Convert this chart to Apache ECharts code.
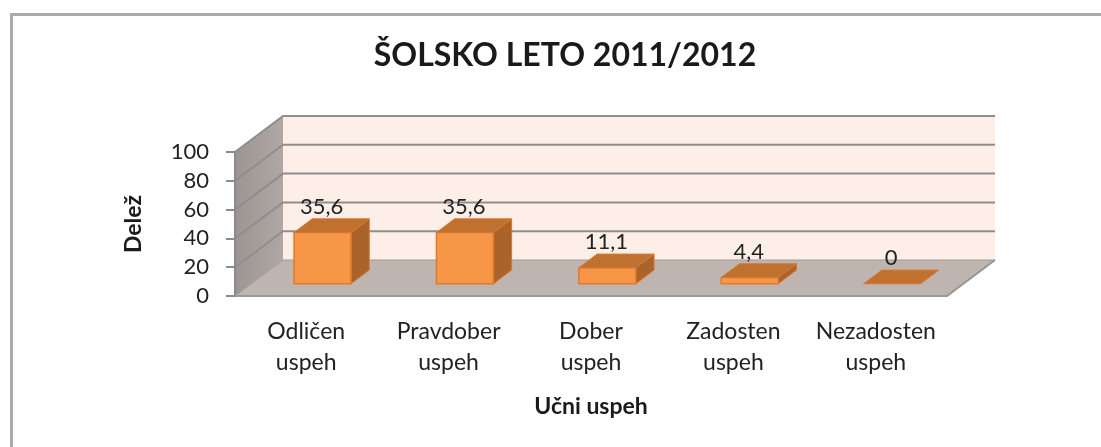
<!DOCTYPE html>
<html>
<head>
<meta charset="utf-8">
<script src="https://cdn.jsdelivr.net/npm/echarts@6/dist/echarts.min.js"></script>
<style>
  html, body { margin: 0; padding: 0; background: #fff; }
  #main { width: 1101px; height: 447px; }
</style>
</head>
<body>
<div id="main"></div>
<script>
// podatki
const categories = ['Odličen\nuspeh', 'Pravdober\nuspeh', 'Dober\nuspeh', 'Zadosten\nuspeh', 'Nezadosten\nuspeh'];
const values = [35.6, 35.6, 11.1, 4.4, 0];
const yTicks = [0, 20, 40, 60, 80, 100];

const FONT = 'Lato, "Noto Sans", sans-serif';
const DEPTH = [48, -36];     // globina stene
const BAR_FRONT = 0.34, BAR_BACK = 0.72; // lega stolpca v globino

const chart = echarts.init(document.getElementById('main'));

// stene, tla in mreža
function renderWalls(params, api) {
  const cs = params.coordSys;
  const L = cs.x, R = cs.x + cs.width, T = cs.y, B = cs.y + cs.height;
  const dx = DEPTH[0], dy = DEPTH[1];
  const children = [];
  // zadnja stena
  children.push({ type: 'rect', shape: { x: L + dx, y: T + dy, width: cs.width, height: cs.height },
    style: { fill: '#fdefe7' } });
  // stranska stena
  children.push({ type: 'polygon', shape: { points: [[L, T], [L + dx, T + dy], [L + dx, B + dy], [L, B]] },
    style: { fill: new echarts.graphic.LinearGradient(0, 0, 1, 0, [
      { offset: 0, color: '#9c9591' }, { offset: 1, color: '#aea7a3' }]) } });
  // tla
  children.push({ type: 'polygon', shape: { points: [[L, B], [R, B], [R + dx, B + dy], [L + dx, B + dy]] },
    style: { fill: '#bfb5b0' } });
  children.push({ type: 'polyline', shape: { points: [[R, B], [R + dx, B + dy]] },
    style: { stroke: '#969696', lineWidth: 2, fill: null } });
  // mrežne črte
  yTicks.forEach(function (v) {
    const y = api.coord([0, v])[1];
    if (v > 0) {
      children.push({ type: 'polyline', shape: { points: [[L, y], [L + dx, y + dy], [R + dx, y + dy]] },
        style: { stroke: '#8e8e8e', lineWidth: 2, fill: null } });
    } else {
      children.push({ type: 'polyline', shape: { points: [[L, y], [L + dx, y + dy], [R + dx, y + dy]] },
        style: { stroke: '#a09a97', lineWidth: 1, fill: null } });
    }
  });
  return { type: 'group', children: children };
}

// 3D stolpci
function renderBar(params, api) {
  const i = api.value(0), v = api.value(1);
  const base = api.coord([i, 0]);
  const top = api.coord([i, v]);
  const band = api.size([1, 0])[0];
  const w = band * 0.4;
  const fx = DEPTH[0] * BAR_FRONT, fy = DEPTH[1] * BAR_FRONT;
  const bx = DEPTH[0] * BAR_BACK, by = DEPTH[1] * BAR_BACK;
  const x0 = base[0] - w / 2 + fx, x1 = base[0] + w / 2 + fx;
  const yb = base[1] + fy, yt = top[1] + fy;
  const ddx = bx - fx, ddy = by - fy;
  const children = [];
  if (yb - yt > 0.5) {
    children.push({ type: 'polygon', shape: { points: [[x1, yt], [x1 + ddx, yt + ddy], [x1 + ddx, yb + ddy], [x1, yb]] },
      style: { fill: '#a9632b', stroke: '#d9772f', lineWidth: 1 } });
    children.push({ type: 'rect', shape: { x: x0, y: yt, width: w, height: yb - yt },
      style: { fill: '#f79646', stroke: '#e07a2c', lineWidth: 1.5 } });
  }
  children.push({ type: 'polygon', shape: { points: [[x0, yt], [x1, yt], [x1 + ddx, yt + ddy], [x0 + ddx, yt + ddy]] },
    style: { fill: '#c1712f', stroke: '#d37a34', lineWidth: 1 } });
  children.push({ type: 'text', x: (x0 + x1) / 2 - 1, y: yt + ddy - 1,
    style: { text: String(v).replace('.', ','), font: '22px ' + FONT, fill: '#222',
      align: 'center', verticalAlign: 'bottom' } });
  return { type: 'group', children: children };
}

chart.setOption({
  backgroundColor: '#fff',
  animation: false,
  title: {
    text: 'ŠOLSKO LETO 2011/2012',
    left: 560, top: 35, textAlign: 'center',
    textStyle: { fontFamily: FONT, fontSize: 32, fontWeight: 'bold', color: '#1a1a1a' }
  },
  graphic: [{
    type: 'rect', left: 9, top: 12, z: -10,
    shape: { width: 1110, height: 460 },
    style: { fill: null, stroke: '#aaaaaa', lineWidth: 3 }
  }],
  grid: { left: 235, right: 154, top: 152, bottom: 151 },
  xAxis: {
    type: 'category', data: categories, z: 10,
    name: 'Učni uspeh', nameLocation: 'middle', nameGap: 99,
    nameTextStyle: { fontFamily: FONT, fontSize: 23, fontWeight: 'bold', color: '#1a1a1a' },
    axisLine: { show: true, lineStyle: { color: '#9a9a9a', width: 2 } },
    axisTick: { show: false },
    axisLabel: { fontFamily: FONT, fontSize: 23, color: '#222', lineHeight: 31, margin: 20, interval: 0 },
    splitLine: { show: false }
  },
  yAxis: {
    type: 'value', min: 0, max: 100, interval: 20, z: 10,
    name: 'Delež', nameLocation: 'middle', nameGap: 90, nameRotate: 90,
    nameTextStyle: { fontFamily: FONT, fontSize: 23, fontWeight: 'bold', color: '#1a1a1a' },
    axisLine: { show: true, lineStyle: { color: '#8a8a8a', width: 2 } },
    axisTick: { show: true, length: 9, lineStyle: { color: '#8a8a8a', width: 2 } },
    axisLabel: { fontFamily: FONT, fontSize: 22, color: '#222', margin: 26 },
    splitLine: { show: false }
  },
  series: [{
    type: 'custom', name: 'stene', z: 1, clip: false, silent: true,
    renderItem: renderWalls, data: [[0, 0]]
  }, {
    type: 'custom', name: 'Delež', z: 3, clip: false,
    renderItem: renderBar,
    encode: { x: 0, y: 1 },
    data: values.map(function (v, i) { return [i, v]; })
  }]
});
</script>
</body>
</html>
